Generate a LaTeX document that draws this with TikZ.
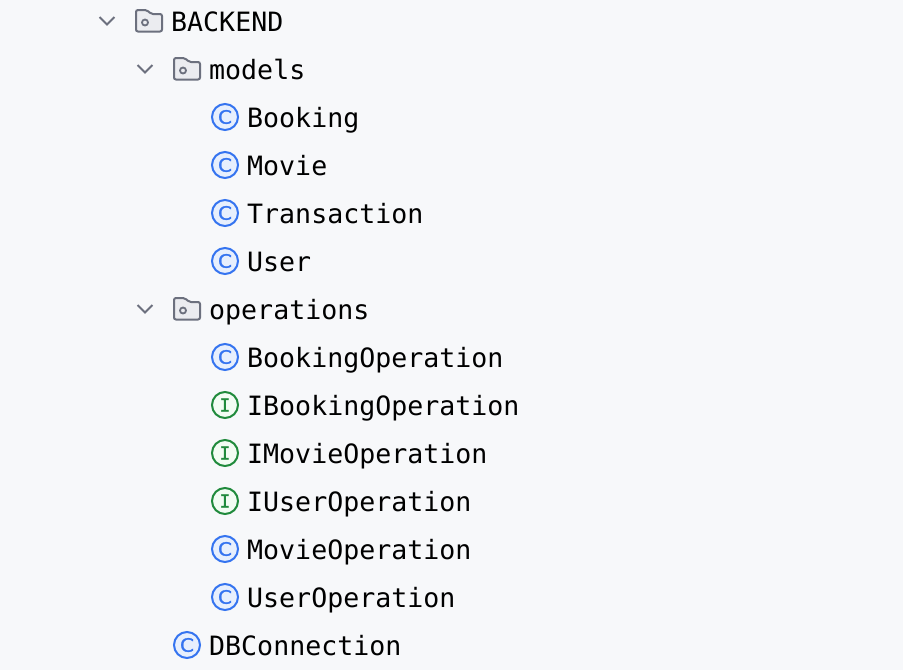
\documentclass[tikz,border=0pt]{standalone}
\usepackage{fontspec}
\setmonofont{DejaVu Sans Mono}
\newfontfamily\classfont[FakeBold=1.2, FakeStretch=1.08]{DejaVu Sans}
\newfontfamily\ifacefont[FakeBold=1.2]{DejaVu Sans Mono}
\definecolor{panelbg}{HTML}{F7F8FA}
\definecolor{foldergray}{HTML}{6C707E}
\definecolor{folderfill}{HTML}{EBECF0}
\definecolor{classblue}{HTML}{3574F0}
\definecolor{classfill}{HTML}{E7EFFD}
\definecolor{ifacegreen}{HTML}{208A3C}
\definecolor{ifacefill}{HTML}{F2FCF3}

\tikzset{
  label/.style={anchor=base west, inner sep=0pt, font=\fontsize{26.6}{30}\selectfont\ttfamily},
  classicon/.style={circle, draw=classblue, fill=classfill, line width=2pt, minimum size=26pt, inner sep=0pt, text=classblue, font=\fontsize{18.5}{20}\selectfont\classfont},
  ifaceicon/.style={circle, draw=ifacegreen, fill=ifacefill, line width=2pt, minimum size=26pt, inner sep=0pt, text=ifacegreen, font=\fontsize{18}{20}\selectfont\ifacefont},
  chevron/.style={draw=foldergray, line width=2pt},
  folder/.style={draw=foldergray, fill=folderfill, line width=2pt, rounded corners=2pt},
  folderdot/.style={draw=foldergray, line width=1.8pt},
}

\begin{document}
\begin{tikzpicture}[x=1pt, y=-1pt]
  % background
  \path[fill=panelbg] (0, 0) rectangle (903, 670);
  \useasboundingbox (0, 0) rectangle (903, 670);

  % folders
  \foreach \x/\y/\name/\txt in {107/21/backend/BACKEND, 145/69/models/models, 145/309/operations/operations} {
    \draw[chevron] (\x - 7.5, \y - 4) -- (\x, \y + 3.5) -- (\x + 7.5, \y - 4);
    \begin{scope}[shift={(\x + 42, \y)}]
      \draw[folder] (-13, 10.5) -- (-13, -11) -- (-2, -11) -- (2, -7) -- (13, -7) -- (13, 10.5) -- cycle;
      \draw[folderdot] (-4, 1.5) circle [radius=3];
    \end{scope}
    \node[label] (\name) at (\x + 64, \y + 10) {\txt};
  }

  % classes
  \foreach \x/\y/\name/\txt in {225/117/booking/Booking, 225/165/movie/Movie, 225/213/transaction/Transaction, 225/261/user/User, 225/357/bookingop/BookingOperation, 225/549/movieop/MovieOperation, 225/597/userop/UserOperation, 187/645/dbconn/DBConnection} {
    \node[classicon] (\name icon) at (\x, \y) {C};
    \node[label] (\name) at (\x + 22, \y + 10) {\txt};
  }

  % interfaces
  \foreach \x/\y/\name/\txt in {225/405/ibookingop/IBookingOperation, 225/453/imovieop/IMovieOperation, 225/501/iuserop/IUserOperation} {
    \node[ifaceicon] (\name icon) at (\x, \y) {I};
    \node[label] (\name) at (\x + 22, \y + 10) {\txt};
  }
\end{tikzpicture}
\end{document}
